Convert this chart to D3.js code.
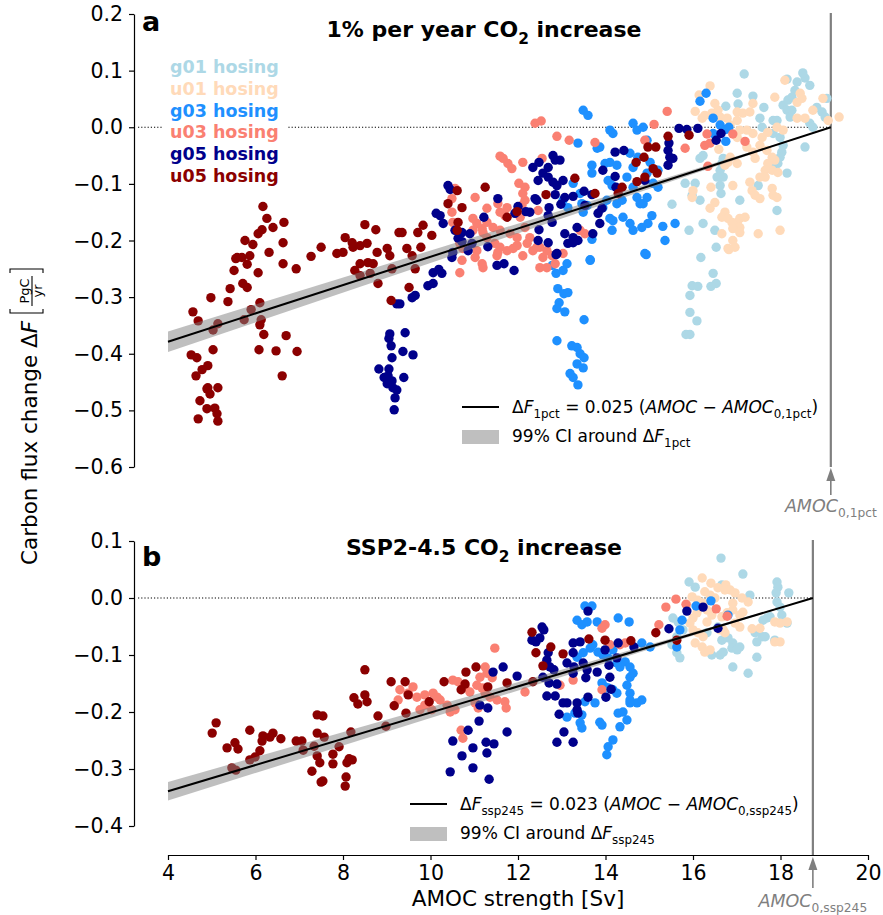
<!DOCTYPE html>
<html>
<head>
<meta charset="utf-8">
<script src="https://cdn.jsdelivr.net/npm/d3@7"></script>
<style>
  body { margin: 0; background: #fff; }
  svg { font-family: "DejaVu Sans", sans-serif; }
</style>
</head>
<body>
<script>
// ---- data ----
const groups = ['g01 hosing', 'u01 hosing', 'g03 hosing', 'u03 hosing', 'g05 hosing', 'u05 hosing'];
const colors = ['#add8e6', '#ffdab9', '#1e90ff', '#fa8072', '#00008b', '#8b0000'];
const xTicks = [4, 6, 8, 10, 12, 14, 16, 18, 20];
const yTicksA = [0.2, 0.1, 0.0, -0.1, -0.2, -0.3, -0.4, -0.5, -0.6];
const yTicksB = [0.1, 0.0, -0.1, -0.2, -0.3, -0.4];

// fits: slope, AMOC0, 99% CI on slope
const fitA = [0.025, 19.15, 0.0012];
const fitB = [0.023, 18.74, 0.0011];

// panel a: 1% per year
const g01A = [[17.17,0.094],[17.01,0.060],[17.37,0.055],[17.62,0.035],[16.75,0.037],[17.03,0.041],[18.15,0.085],[18.38,0.080],[18.56,0.087],[18.51,0.096],[18.67,0.074],[18.33,0.065],[18.06,0.039],[18.17,0.048],[18.26,0.053],[18.15,0.030],[18.22,0.018],[18.26,0.030],[18.83,0.035],[18.95,0.027],[19.02,0.018],[19.06,0.051],[18.67,0.007],[18.74,0.000],[17.83,0.012],[17.92,0.012],[17.53,0.016],[17.58,0.000],[17.83,-0.011],[17.99,-0.018],[18.06,-0.032],[18.03,-0.044],[17.99,-0.053],[18.56,-0.035],[18.15,-0.081],[17.94,-0.064],[17.83,-0.073],[16.23,-0.050],[16.16,-0.055],[16.69,-0.055],[16.66,-0.064],[16.62,-0.076],[16.69,-0.088],[16.55,-0.088],[16.62,-0.103],[16.64,-0.117],[15.82,-0.099],[16.05,-0.099],[16.16,-0.129],[15.52,-0.136],[15.98,-0.120],[17.07,-0.129],[17.49,-0.103],[17.92,-0.147],[16.23,-0.170],[15.91,-0.182],[16.53,-0.212],[16.50,-0.182],[16.18,-0.230],[16.46,-0.258],[16.53,-0.276],[16.41,-0.281],[15.98,-0.280],[16.11,-0.281],[15.93,-0.297],[15.93,-0.327],[16.09,-0.342],[15.84,-0.366],[15.93,-0.366]];
const u01A = [[16.39,0.073],[16.14,0.057],[16.05,0.028],[16.21,0.016],[16.27,0.021],[16.43,0.025],[16.57,0.030],[16.62,0.018],[16.50,0.042],[16.78,0.016],[17.01,0.027],[17.14,0.025],[17.01,0.012],[16.85,0.004],[17.37,0.042],[17.30,0.027],[17.87,0.053],[18.10,0.083],[18.45,0.060],[18.38,0.044],[18.49,0.051],[18.74,0.030],[18.56,0.016],[18.38,0.016],[18.97,0.051],[19.09,0.012],[19.34,0.018],[17.71,-0.009],[17.58,-0.018],[17.37,-0.011],[17.23,-0.005],[17.92,0.000],[18.06,-0.005],[17.07,-0.005],[17.01,-0.018],[17.23,-0.035],[17.37,-0.044],[17.53,-0.032],[17.42,-0.055],[17.69,-0.041],[17.81,-0.053],[17.87,-0.058],[17.71,-0.064],[16.85,-0.053],[16.73,-0.067],[16.80,-0.062],[17.01,-0.064],[17.65,-0.076],[17.81,-0.076],[17.94,-0.080],[17.65,-0.088],[17.53,-0.088],[17.30,-0.097],[17.35,-0.112],[16.91,-0.103],[16.41,-0.106],[16.00,-0.112],[15.98,-0.124],[16.50,-0.133],[16.39,-0.143],[17.42,-0.120],[17.53,-0.126],[17.81,-0.108],[17.83,-0.120],[17.92,-0.124],[16.73,-0.150],[16.66,-0.159],[16.80,-0.161],[16.89,-0.168],[17.01,-0.168],[17.07,-0.161],[17.19,-0.159],[17.07,-0.177],[16.91,-0.179],[17.07,-0.186],[16.66,-0.188],[16.91,-0.200],[16.80,-0.214],[16.96,-0.212],[17.49,-0.188],[17.99,-0.182],[16.59,-0.039],[16.82,-0.216]];
const g03A = [[13.49,0.030],[13.60,0.021],[13.37,-0.028],[13.81,-0.037],[13.87,-0.035],[14.10,-0.005],[14.17,-0.011],[14.63,0.007],[14.72,-0.005],[13.69,-0.067],[13.69,-0.081],[13.99,-0.064],[14.10,-0.062],[14.26,-0.067],[14.56,-0.046],[14.63,-0.071],[14.74,-0.053],[14.06,-0.094],[14.15,-0.103],[13.26,-0.099],[13.58,-0.138],[13.49,-0.150],[13.94,-0.142],[14.03,-0.129],[14.26,-0.135],[14.38,-0.129],[14.49,-0.088],[14.63,-0.106],[14.72,-0.124],[14.79,-0.135],[14.10,-0.161],[14.17,-0.165],[14.40,-0.159],[14.56,-0.170],[14.63,-0.182],[14.15,-0.182],[13.69,-0.198],[13.65,-0.235],[13.42,-0.117],[13.46,-0.135],[13.03,-0.129],[13.14,-0.142],[16.30,0.060],[16.16,0.046],[16.46,0.016],[14.86,0.000],[14.95,-0.023],[16.62,0.004],[16.75,-0.004],[16.82,0.000],[16.46,-0.011],[16.75,-0.025],[15.02,-0.062],[15.20,-0.076],[15.20,-0.106],[15.09,-0.099],[14.86,-0.135],[14.95,-0.124],[15.06,-0.156],[14.97,-0.170],[14.83,-0.177],[15.31,-0.175],[15.59,-0.170],[15.36,-0.200],[14.90,-0.223],[14.95,-0.081],[12.78,-0.244],[12.87,-0.258],[13.03,-0.253],[13.12,-0.241],[13.65,-0.234],[12.91,-0.285],[13.05,-0.294],[13.14,-0.292],[12.94,-0.310],[12.89,-0.320],[13.07,-0.326],[13.51,-0.340],[12.89,-0.377],[13.23,-0.386],[13.35,-0.389],[13.42,-0.400],[13.51,-0.407],[13.35,-0.418],[13.49,-0.425],[13.19,-0.435],[13.26,-0.442],[13.37,-0.455],[14.93,-0.225]];
const u03A = [[12.39,0.007],[12.53,0.011],[12.89,-0.016],[13.17,-0.023],[13.76,-0.027],[11.59,-0.051],[11.66,-0.055],[11.77,-0.064],[11.86,-0.073],[12.11,-0.062],[12.55,-0.055],[12.02,-0.099],[12.16,-0.106],[12.11,-0.117],[12.16,-0.129],[12.09,-0.138],[11.02,-0.124],[10.49,-0.126],[10.56,-0.108],[11.29,-0.143],[11.54,-0.135],[11.75,-0.142],[11.59,-0.150],[11.70,-0.156],[10.49,-0.150],[10.51,-0.168],[10.97,-0.161],[11.06,-0.170],[11.18,-0.179],[10.97,-0.182],[11.29,-0.168],[11.20,-0.186],[11.43,-0.177],[11.59,-0.182],[11.82,-0.188],[11.98,-0.195],[11.47,-0.205],[11.59,-0.212],[11.75,-0.218],[11.89,-0.214],[12.05,-0.159],[12.16,-0.177],[12.27,-0.195],[12.21,-0.205],[12.34,-0.218],[12.50,-0.212],[12.66,-0.218],[12.78,-0.227],[12.89,-0.223],[11.06,-0.218],[11.54,-0.221],[10.67,-0.205],[10.74,-0.214],[11.02,-0.230],[11.29,-0.195],[13.42,-0.182],[13.53,-0.188],[12.46,-0.147],[10.72,-0.235],[10.67,-0.257],[11.18,-0.241],[11.20,-0.248],[11.52,-0.227],[11.98,-0.209],[12.11,-0.227],[12.43,-0.212],[12.57,-0.230],[12.50,-0.248],[12.66,-0.248],[12.85,-0.241],[13.03,-0.223],[15.41,0.028],[15.11,0.005],[14.90,-0.023],[15.82,-0.037],[16.32,-0.012],[16.27,-0.032],[16.39,-0.028],[16.91,-0.012],[17.19,-0.025],[16.34,-0.069]];
const g05A = [[10.40,-0.103],[10.45,-0.110],[10.13,-0.152],[10.22,-0.156],[10.29,-0.170],[10.56,-0.182],[10.72,-0.186],[10.90,-0.188],[10.63,-0.196],[10.95,-0.205],[10.86,-0.218],[10.49,-0.230],[11.54,-0.126],[11.22,-0.159],[11.31,-0.211],[12.00,-0.140],[12.18,-0.149],[12.27,-0.150],[11.93,-0.152],[12.34,-0.071],[12.48,-0.062],[12.57,-0.081],[12.69,-0.071],[12.80,-0.050],[12.85,-0.058],[12.96,-0.058],[12.69,-0.088],[12.80,-0.097],[12.89,-0.103],[13.03,-0.094],[12.46,-0.094],[12.39,-0.126],[12.43,-0.129],[12.85,-0.119],[13.07,-0.124],[13.26,-0.122],[12.71,-0.142],[12.98,-0.136],[12.69,-0.156],[12.78,-0.168],[12.48,-0.181],[12.46,-0.200],[12.69,-0.204],[12.89,-0.223],[13.07,-0.188],[13.26,-0.195],[13.35,-0.177],[13.14,-0.205],[13.37,-0.200],[13.71,-0.188],[13.87,-0.170],[13.83,-0.152],[13.92,-0.143],[13.69,-0.119],[13.94,-0.076],[14.22,-0.044],[14.42,-0.041],[14.22,-0.087],[14.24,-0.106],[13.51,-0.113],[13.53,-0.138],[15.68,-0.002],[15.86,-0.004],[16.11,-0.002],[15.45,-0.028],[15.43,-0.041],[15.47,-0.053],[15.54,-0.055],[15.43,-0.067],[16.64,-0.011],[16.53,-0.023],[14.90,-0.094],[10.51,-0.221],[10.06,-0.257],[10.19,-0.251],[10.26,-0.258],[9.94,-0.280],[10.06,-0.276],[9.58,-0.301],[9.65,-0.297],[9.30,-0.312],[11.52,-0.244],[11.68,-0.241],[11.91,-0.253],[10.72,-0.202],[12.87,-0.225],[9.42,-0.363],[9.37,-0.396],[9.60,-0.402],[9.39,-0.442],[13.26,-0.204],[9.23,-0.312],[9.07,-0.365],[9.05,-0.373],[9.10,-0.386],[9.12,-0.407],[8.82,-0.427],[9.05,-0.427],[8.94,-0.442],[9.03,-0.439],[9.12,-0.448],[9.01,-0.453],[9.14,-0.460],[9.23,-0.464],[9.19,-0.478],[9.17,-0.499]];
const u05A = [[5.76,-0.200],[5.94,-0.207],[6.63,-0.204],[7.50,-0.212],[6.31,-0.221],[5.55,-0.232],[5.69,-0.230],[5.87,-0.227],[5.81,-0.242],[6.63,-0.241],[6.93,-0.250],[7.27,-0.228],[7.86,-0.223],[8.00,-0.221],[8.23,-0.212],[8.39,-0.209],[8.55,-0.205],[8.78,-0.221],[9.01,-0.214],[9.07,-0.227],[8.39,-0.241],[8.57,-0.239],[8.69,-0.241],[8.27,-0.253],[8.39,-0.262],[8.62,-0.258],[8.80,-0.276],[9.12,-0.250],[5.51,-0.253],[6.06,-0.257],[5.71,-0.276],[5.81,-0.283],[5.42,-0.285],[4.98,-0.301],[5.37,-0.308],[6.10,-0.310],[4.57,-0.326],[5.90,-0.322],[4.69,-0.342],[5.14,-0.347],[5.03,-0.358],[5.74,-0.340],[6.13,-0.340],[6.10,-0.349],[6.19,-0.366],[6.70,-0.368],[5.03,-0.393],[6.08,-0.393],[6.47,-0.395],[6.95,-0.396],[4.53,-0.402],[4.66,-0.407],[4.91,-0.421],[4.78,-0.428],[4.64,-0.439],[6.61,-0.439],[4.89,-0.462],[4.96,-0.471],[5.14,-0.460],[4.91,-0.460],[4.73,-0.483],[4.89,-0.497],[5.07,-0.496],[5.12,-0.506],[5.14,-0.519],[4.69,-0.515],[9.10,-0.306],[6.17,-0.140],[6.26,-0.161],[6.65,-0.168],[6.40,-0.177],[6.06,-0.188],[6.15,-0.181],[8.05,-0.195],[8.21,-0.204],[8.50,-0.172],[8.75,-0.181],[9.28,-0.186],[5.58,-0.230],[9.35,-0.186],[9.71,-0.186],[9.83,-0.173],[10.03,-0.191],[9.46,-0.214],[9.78,-0.212],[10.61,-0.112],[10.40,-0.135],[10.72,-0.142],[10.63,-0.168],[10.61,-0.182],[11.25,-0.106],[11.75,-0.159],[11.98,-0.149],[12.64,-0.119],[13.30,-0.090],[13.76,-0.117],[14.70,-0.062],[14.72,-0.096],[14.38,-0.106],[14.29,-0.117],[15.43,-0.016],[15.91,-0.014],[14.97,-0.035],[15.15,-0.035],[14.88,-0.053],[15.09,-0.073],[15.18,-0.081],[14.90,-0.088],[9.58,-0.227],[9.65,-0.250],[9.51,-0.283]];

// panel b: SSP2-4.5
const g01B = [[16.64,0.070],[17.14,0.042],[15.91,0.028],[16.05,0.019],[16.66,0.023],[17.30,0.005],[17.92,0.028],[17.94,0.019],[17.90,0.009],[17.92,-0.007],[17.99,-0.016],[18.19,0.009],[15.54,-0.035],[15.66,-0.042],[15.77,-0.056],[15.63,-0.068],[15.52,-0.082],[15.63,-0.096],[15.70,-0.105],[16.66,-0.074],[16.80,-0.070],[16.91,-0.079],[17.07,-0.086],[16.43,-0.100],[16.62,-0.100],[16.69,-0.095],[16.89,-0.088],[17.01,-0.091],[17.46,-0.077],[17.58,-0.068],[17.65,-0.068],[17.69,-0.035],[17.76,-0.033],[17.60,-0.039],[18.03,-0.030],[18.15,-0.044],[17.42,-0.061],[17.87,-0.074],[17.46,-0.104],[16.91,-0.121],[17.26,-0.132],[16.32,-0.061],[16.57,-0.051]];
const u01B = [[16.21,0.035],[16.41,0.026],[16.57,0.018],[16.75,0.023],[16.85,0.014],[16.96,0.009],[16.27,0.011],[16.39,0.005],[16.50,0.000],[15.98,0.002],[16.11,-0.004],[16.23,-0.009],[15.86,-0.012],[16.09,-0.026],[16.00,-0.035],[15.93,-0.044],[16.32,-0.021],[16.43,-0.030],[16.32,-0.042],[16.66,-0.033],[16.78,-0.026],[16.91,-0.021],[16.91,-0.009],[17.26,-0.007],[17.12,0.000],[17.07,-0.030],[17.14,-0.025],[16.96,-0.044],[16.00,-0.056],[16.11,-0.061],[16.23,-0.068],[16.05,-0.079],[16.21,-0.086],[16.27,-0.095],[16.39,-0.091],[16.62,-0.056],[16.69,-0.056],[16.73,-0.061],[17.07,-0.051],[17.35,-0.054],[17.53,-0.053],[17.87,-0.042],[17.99,-0.044],[18.15,-0.042],[17.87,-0.077],[17.99,-0.077],[16.73,0.014]];
const g03B = [[13.53,-0.014],[13.69,-0.014],[13.35,-0.039],[13.46,-0.047],[13.58,-0.042],[13.81,-0.042],[14.29,-0.035],[14.54,-0.042],[13.35,-0.104],[13.49,-0.096],[13.65,-0.088],[13.71,-0.082],[13.83,-0.095],[13.94,-0.100],[14.06,-0.105],[14.17,-0.091],[14.26,-0.114],[14.33,-0.121],[14.45,-0.112],[14.56,-0.121],[14.56,-0.139],[14.63,-0.132],[13.92,-0.149],[13.99,-0.156],[14.06,-0.158],[14.17,-0.161],[14.26,-0.167],[14.49,-0.153],[14.56,-0.167],[14.56,-0.179],[14.72,-0.184],[13.12,-0.209],[13.30,-0.202],[13.42,-0.219],[13.46,-0.228],[13.53,-0.182],[13.76,-0.184],[13.87,-0.218],[13.92,-0.223],[14.29,-0.202],[14.40,-0.200],[14.56,-0.184],[14.33,-0.226],[14.49,-0.214],[14.17,-0.249],[14.06,-0.261],[14.03,-0.275],[13.46,-0.205],[14.83,-0.079],[15.02,-0.086],[15.75,-0.039],[15.70,-0.056],[15.63,-0.086],[16.07,-0.014],[16.41,-0.005],[16.80,-0.030],[14.83,-0.179]];
const u03B = [[9.30,-0.161],[9.26,-0.179],[11.47,-0.088],[9.60,-0.156],[9.49,-0.167],[9.69,-0.174],[9.87,-0.170],[10.06,-0.167],[10.15,-0.174],[10.22,-0.179],[9.76,-0.196],[9.87,-0.188],[10.03,-0.196],[10.38,-0.188],[10.45,-0.200],[10.56,-0.196],[10.51,-0.144],[10.63,-0.147],[10.79,-0.156],[10.90,-0.165],[11.13,-0.139],[11.25,-0.121],[11.29,-0.132],[11.41,-0.140],[11.06,-0.153],[11.18,-0.158],[11.25,-0.167],[11.36,-0.174],[11.52,-0.179],[11.70,-0.182],[11.73,-0.193],[11.02,-0.184],[11.09,-0.193],[10.70,-0.232],[10.74,-0.246],[12.16,-0.165],[12.96,-0.153],[13.26,-0.144],[13.92,-0.053],[13.99,-0.047],[14.10,-0.082],[14.33,-0.082],[13.92,-0.161],[14.45,-0.079],[15.38,-0.016],[15.61,-0.002],[15.84,-0.011],[15.22,-0.047],[16.53,-0.019],[16.78,-0.032]];
const g05B = [[11.43,-0.130],[11.66,-0.121],[11.98,-0.137],[11.13,-0.188],[11.31,-0.193],[11.11,-0.216],[10.86,-0.232],[10.51,-0.251],[10.97,-0.263],[10.72,-0.277],[11.27,-0.253],[11.45,-0.256],[11.29,-0.272],[11.75,-0.235],[10.97,-0.298],[10.45,-0.305],[11.34,-0.318],[12.32,-0.074],[12.41,-0.077],[12.50,-0.070],[12.55,-0.051],[12.59,-0.056],[12.69,-0.096],[12.66,-0.109],[12.73,-0.121],[12.82,-0.126],[12.57,-0.139],[12.71,-0.149],[12.89,-0.151],[12.66,-0.172],[12.85,-0.172],[13.03,-0.184],[13.12,-0.184],[12.94,-0.204],[13.35,-0.184],[13.35,-0.196],[13.37,-0.202],[12.89,-0.253],[13.05,-0.235],[13.26,-0.253],[13.60,-0.023],[13.26,-0.079],[13.42,-0.077],[13.26,-0.096],[13.28,-0.121],[13.49,-0.114],[13.58,-0.126],[13.26,-0.132],[13.12,-0.114],[13.55,-0.140],[13.60,-0.174],[13.81,-0.130],[14.01,-0.174],[13.99,-0.091],[14.08,-0.118],[14.10,-0.139],[14.13,-0.160],[14.26,-0.105],[14.29,-0.079],[14.65,-0.086],[15.86,-0.023],[16.23,-0.016],[15.45,-0.054],[16.57,-0.053]];
const u05B = [[8.50,-0.126],[9.10,-0.147],[8.25,-0.175],[8.50,-0.170],[8.55,-0.182],[8.34,-0.186],[9.17,-0.189],[8.80,-0.207],[8.98,-0.225],[8.18,-0.235],[5.10,-0.219],[5.01,-0.237],[5.87,-0.232],[6.17,-0.242],[6.40,-0.237],[6.33,-0.244],[6.15,-0.251],[6.58,-0.247],[5.35,-0.263],[5.53,-0.254],[5.60,-0.265],[6.10,-0.268],[5.99,-0.279],[5.87,-0.284],[5.46,-0.298],[5.55,-0.302],[6.93,-0.251],[7.06,-0.251],[7.09,-0.267],[7.41,-0.205],[7.54,-0.207],[7.41,-0.237],[7.57,-0.244],[7.34,-0.260],[7.41,-0.277],[7.47,-0.289],[7.29,-0.304],[7.50,-0.323],[7.54,-0.321],[7.91,-0.261],[7.77,-0.274],[7.77,-0.291],[8.14,-0.282],[8.09,-0.289],[8.21,-0.284],[8.07,-0.314],[8.05,-0.330],[9.42,-0.147],[9.49,-0.170],[9.44,-0.202],[9.97,-0.182],[10.31,-0.147],[10.81,-0.130],[11.04,-0.121],[10.79,-0.151],[10.70,-0.161],[11.31,-0.156],[11.75,-0.149],[12.32,-0.060],[12.41,-0.096],[12.57,-0.119],[12.75,-0.086],[12.34,-0.147],[13.03,-0.098],[13.62,-0.072],[13.99,-0.074],[14.58,-0.075],[15.15,-0.061],[15.63,-0.074]];

const seriesA = [g01A, u01A, g03A, u03A, g05A, u05A];
const seriesB = [g01B, u01B, g03B, u03B, g05B, u05B];

// ---- layout ----
const width = 883, height = 915;
const svg = d3.select('body').append('svg')
    .attr('width', width)
    .attr('height', height);

const x = d3.scaleLinear().domain([4, 20]).range([168, 868]);
const yA = d3.scaleLinear().domain([-0.6, 0.2]).range([467, 14]);
const yB = d3.scaleLinear().domain([-0.4, 0.1]).range([826, 541]);
const spineX = 134;
const xAxisY = 855;
const grey = '#7f7f7f';
const tickFont = 20.5;
const labelFont = 21.5;
const legFont = 17;

// writes a run of parts into a text element; sub parts are shifted down
function mathText(text, parts, size) {
    let shift = 0;
    parts.forEach(p => {
        const t = text.append('tspan').text(p.t);
        const target = p.sub ? size * 0.3 : 0;
        if (target !== shift) { t.attr('dy', target - shift); shift = target; }
        t.attr('font-size', p.sub ? size * 0.7 : size);
        if (p.i) t.attr('font-style', 'italic');
    });
}

function drawPanel(y, series, fit, yTicks, opts) {
    const g = svg.append('g');
    const [slope, x0, ci] = fit;

    // axis
    g.append('g')
        .attr('transform', `translate(${spineX},0)`)
        .call(d3.axisLeft(y).tickValues(yTicks).tickFormat(d3.format('.1f'))
            .tickSize(5).tickPadding(6).tickSizeOuter(0))
        .call(a => a.selectAll('text').attr('font-size', tickFont).attr('font-family', 'DejaVu Sans'))
        .call(a => a.selectAll('line,path').attr('stroke-width', 1.2));

    // zero line
    g.append('line')
        .attr('x1', spineX + 4).attr('x2', x(x0))
        .attr('y1', y(0)).attr('y2', y(0))
        .attr('stroke', '#000').attr('stroke-width', 1.2)
        .attr('stroke-dasharray', '1.2,2');

    // AMOC0 vertical line
    g.append('line')
        .attr('x1', x(x0)).attr('x2', x(x0))
        .attr('y1', y.range()[1] - 1).attr('y2', opts.vBottom)
        .attr('stroke', grey).attr('stroke-width', 2.2);

    // points
    series.forEach((pts, i) => {
        g.append('g').selectAll('circle')
            .data(pts)
            .enter()
            .append('circle')
            .attr('cx', d => x(d[0]))
            .attr('cy', d => y(d[1]))
            .attr('r', 4.7)
            .style('fill', colors[i]);
    });

    // CI band and fit line
    const xs = [4, x0];
    g.append('path')
        .datum(xs)
        .attr('d', d3.area()
            .x(d => x(d))
            .y0(d => y((slope + ci) * (d - x0)))
            .y1(d => y((slope - ci) * (d - x0))))
        .attr('fill', '#808080')
        .attr('fill-opacity', 0.5);
    g.append('path')
        .datum(xs)
        .attr('d', d3.line().x(d => x(d)).y(d => y(slope * (d - x0))))
        .attr('stroke', '#000').attr('stroke-width', 2).attr('fill', 'none');

    // arrow annotation
    const ax = x(x0);
    g.append('line')
        .attr('x1', ax).attr('x2', ax)
        .attr('y1', opts.arrowTip + 10).attr('y2', opts.arrowTail)
        .attr('stroke', grey).attr('stroke-width', 1.6);
    g.append('path')
        .attr('d', `M${ax},${opts.arrowTip} L${ax - 4.5},${opts.arrowTip + 13} L${ax + 4.5},${opts.arrowTip + 13} Z`)
        .attr('fill', grey);
    const at = g.append('text')
        .attr('x', ax).attr('y', opts.labelY)
        .attr('text-anchor', 'middle')
        .attr('fill', grey);
    mathText(at, [{ t: 'AMOC', i: true }, { t: opts.sub, sub: true }], 17.5);

    // panel letter and title
    g.append('text')
        .attr('x', 142).attr('y', opts.letterY)
        .attr('font-size', 27).attr('font-weight', 'bold')
        .text(opts.letter);
    const tt = g.append('text')
        .attr('x', 484).attr('y', opts.titleY)
        .attr('text-anchor', 'middle')
        .attr('font-weight', 'bold');
    mathText(tt, opts.title, 22);

    // fit legend
    const lg = g.append('g').attr('transform', `translate(${opts.legX},${opts.legY})`);
    lg.append('line').attr('x1', 0).attr('x2', 37).attr('y1', 0).attr('y2', 0)
        .attr('stroke', '#000').attr('stroke-width', 2);
    lg.append('rect').attr('x', 0).attr('y', 23).attr('width', 37).attr('height', 14)
        .attr('fill', '#bfbfbf');
    const l1 = lg.append('text').attr('x', 50).attr('y', 6);
    mathText(l1, [
        { t: 'Δ' }, { t: 'F', i: true }, { t: opts.sub2, sub: true },
        { t: ` = ${slope} (` }, { t: 'AMOC', i: true }, { t: ' − ' },
        { t: 'AMOC', i: true }, { t: opts.sub, sub: true }, { t: ')' }
    ], legFont);
    const l2 = lg.append('text').attr('x', 50).attr('y', 35);
    mathText(l2, [{ t: '99% CI around Δ' }, { t: 'F', i: true }, { t: opts.sub2, sub: true }], legFont);

    return g;
}

drawPanel(yA, seriesA, fitA, yTicksA, {
    vBottom: 467, arrowTip: 468, arrowTail: 495, labelY: 512, sub: '0,1pct', sub2: '1pct',
    letter: 'a', letterY: 31, titleY: 37,
    title: [{ t: '1% per year CO' }, { t: '2', sub: true }, { t: ' increase' }],
    legX: 462, legY: 407
});
drawPanel(yB, seriesB, fitB, yTicksB, {
    vBottom: xAxisY, arrowTip: 857, arrowTail: 888, labelY: 907, sub: '0,ssp245', sub2: 'ssp245',
    letter: 'b', letterY: 566, titleY: 555,
    title: [{ t: 'SSP2-4.5 CO' }, { t: '2', sub: true }, { t: ' increase' }],
    legX: 410, legY: 804
});

// x axis (bottom panel only)
svg.append('g')
    .attr('transform', `translate(0,${xAxisY})`)
    .call(d3.axisBottom(x).tickValues(xTicks).tickSize(5).tickPadding(5).tickSizeOuter(0))
    .call(a => a.selectAll('text').attr('font-size', tickFont).attr('font-family', 'DejaVu Sans'))
    .call(a => a.selectAll('line,path').attr('stroke-width', 1.2));

svg.append('text')
    .attr('x', 518).attr('y', 906)
    .attr('text-anchor', 'middle')
    .attr('font-size', labelFont)
    .text('AMOC strength [Sv]');

// hosing legend with white box
svg.append('rect')
    .attr('x', 163).attr('y', 52).attr('width', 125).attr('height', 138)
    .attr('fill', '#fff');
svg.append('g').selectAll('text')
    .data(groups)
    .enter()
    .append('text')
    .attr('x', 170)
    .attr('y', (d, i) => 73 + i * 21.8)
    .attr('font-size', 17.5)
    .attr('font-weight', 'bold')
    .style('fill', (d, i) => colors[i])
    .text(d => d);

// y label with fraction
const yl = svg.append('g').attr('transform', 'translate(37,565) rotate(-90)');
const ylt = yl.append('text').attr('font-size', labelFont);
ylt.append('tspan').text('Carbon flux change Δ');
ylt.append('tspan').attr('font-style', 'italic').text('F');
const lw = ylt.node().getComputedTextLength();
const fx = lw + 8;
const fr = yl.append('g').attr('transform', `translate(${fx},0)`);
fr.append('path')
    .attr('d', 'M4,-27 H0 V6 H4 M40,-27 H44 V6 H40')
    .attr('stroke', '#000').attr('stroke-width', 1.1).attr('fill', 'none');
fr.append('line').attr('x1', 7).attr('x2', 37).attr('y1', -5).attr('y2', -5)
    .attr('stroke', '#000').attr('stroke-width', 1.1);
fr.append('text').attr('x', 22).attr('y', -8).attr('text-anchor', 'middle')
    .attr('font-size', 13).text('PgC');
fr.append('text').attr('x', 22).attr('y', 5).attr('text-anchor', 'middle')
    .attr('font-size', 13).text('yr');
</script>
</body>
</html>
